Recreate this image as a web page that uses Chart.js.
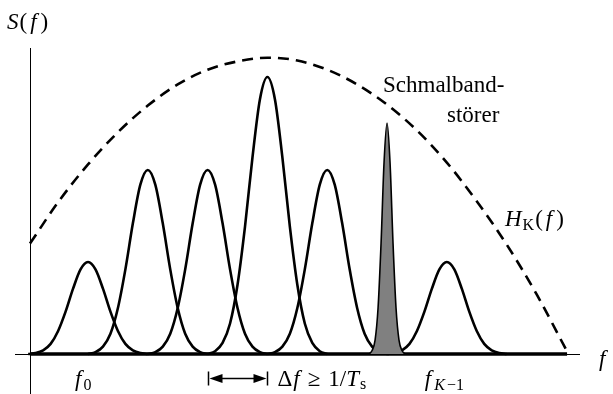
<!DOCTYPE html>
<html>
<head>
<meta charset="utf-8">
<script src="https://cdn.jsdelivr.net/npm/chart.js@4/dist/chart.umd.min.js"></script>
<style>
  html, body { margin: 0; padding: 0; background: #fff; }
  canvas { display: block; }
</style>
</head>
<body>
<canvas id="c" width="613" height="394"></canvas>
<script>
// ---- data (x in units of the carrier spacing, y relative) ----
const carrierLabels   = ['f0', 'f1', 'f2', 'f3', 'f4', 'f5', 'fK-1'];
const pulseCenters    = [0, 1, 2, 3, 4, 6];
const pulseHeights    = [1, 2, 2, 3.01, 2, 1];
const pulseOffsets    = [-1, -0.875, -0.75, -0.625, -0.5, -0.375, -0.25, -0.125, 0, 0.125, 0.25, 0.375, 0.5, 0.625, 0.75, 0.875, 1];
const pulseProfile    = [0, 0.01, 0.04, 0.11, 0.25, 0.46, 0.71, 0.92, 1, 0.92, 0.71, 0.46, 0.25, 0.11, 0.04, 0.01, 0];
const jammerCenter    = 5;
const jammerHeight    = 2.51;
const jammerOffsets   = [-0.3, -0.25, -0.2, -0.15, -0.1, -0.05, 0, 0.05, 0.1, 0.15, 0.2, 0.25, 0.3];
const jammerProfile   = [0, 0.015, 0.06, 0.2, 0.48, 0.83, 1, 0.83, 0.48, 0.2, 0.06, 0.015, 0];
const envelopeF       = [-0.97, -0.5, 0, 0.5, 1, 1.5, 2, 2.5, 3, 3.5, 4, 4.5, 5, 5.5, 6, 6.5, 7, 7.5, 8];
const envelopeH       = [1.20, 1.65, 2.06, 2.41, 2.70, 2.93, 3.09, 3.18, 3.22, 3.19, 3.09, 2.93, 2.71, 2.43, 2.08, 1.66, 1.19, 0.65, 0.04];
const baselineF       = [-0.97, 8.01];

const datasets = [];
datasets.push({
  data: baselineF.map(f => ({x: f, y: 0})),
  borderColor: '#000', borderWidth: 3.6, pointRadius: 0, clip: false, order: 1
});
pulseCenters.forEach((c, i) => {
  datasets.push({
    data: pulseOffsets.map((o, j) => ({x: c + o, y: pulseHeights[i] * pulseProfile[j]})),
    borderColor: '#000', borderWidth: 2.6, pointRadius: 0,
    cubicInterpolationMode: 'monotone', clip: false, order: 2
  });
});
datasets.push({
  data: jammerOffsets.map((o, j) => ({x: jammerCenter + o, y: jammerHeight * jammerProfile[j]})),
  borderColor: '#000', borderWidth: 1.6, backgroundColor: '#808080', fill: 'origin',
  pointRadius: 0, cubicInterpolationMode: 'monotone', clip: false, order: 0
});
datasets.push({
  data: envelopeF.map((f, j) => ({x: f, y: envelopeH[j]})),
  borderColor: '#000', borderWidth: 2.6, borderDash: [11, 7], pointRadius: 0,
  cubicInterpolationMode: 'monotone', clip: false, order: 3
});

function drawRuns(ctx, x, y, runs) {
  // runs: [text, font, dy, gapBefore, gapAfter]
  let cx = x;
  ctx.textBaseline = 'alphabetic';
  ctx.textAlign = 'left';
  for (const [t, f, dy, pre, post] of runs) {
    ctx.font = f;
    cx += pre || 0;
    ctx.fillText(t, cx, y + (dy || 0));
    cx += ctx.measureText(t).width + (post || 0);
  }
}

const IT = 'italic 23px "Liberation Serif"';
const RM = '23px "Liberation Serif"';
const SUB = '16px "Liberation Serif"';
const SUBIT = 'italic 16px "Liberation Serif"';

const annot = {
  id: 'annot',
  afterDraw(chart) {
    const ctx = chart.ctx;
    const xs = chart.scales.x, ys = chart.scales.y;
    const x0 = xs.getPixelForValue(xs.min);
    const y0 = ys.getPixelForValue(0);
    ctx.save();
    ctx.strokeStyle = '#000';
    ctx.fillStyle = '#000';
    ctx.lineWidth = 1;
    // axes
    ctx.beginPath();
    ctx.moveTo(x0 + 0.5, 48); ctx.lineTo(x0 + 0.5, 394);
    ctx.moveTo(15, y0 + 0.5); ctx.lineTo(580, y0 + 0.5);
    ctx.stroke();

    // labels
    drawRuns(ctx, 7, 29, [['S', IT, 0, 0, 1], ['(', RM], ['f', IT, 0, 3, 4], [')', RM]]);
    drawRuns(ctx, 599, 366, [['f', IT]]);
    ctx.font = RM;
    ctx.fillText('Schmalband-', 383, 92);
    ctx.fillText('störer', 447, 122);
    drawRuns(ctx, 505, 226, [['H', IT, 0, 0, 1], ['K', SUB, 4, 0, 1], ['(', RM], ['f', IT, 0, 3, 4], [')', RM]]);

    const pf0 = xs.getPixelForValue(pulseCenters[0]);
    drawRuns(ctx, pf0 - 13, 386, [['f', IT, 0, 0, 2], ['0', SUB, 4]]);
    const pfK = xs.getPixelForValue(pulseCenters[pulseCenters.length - 1]);
    drawRuns(ctx, pfK - 22, 386, [['f', IT, 0, 0, 3], ['K', SUBIT, 4, 0, 2], ['\u2212', SUB, 4], ['1', SUB, 4]]);

    // spacing arrow
    const a = Math.round(xs.getPixelForValue(2)) + 0.5;
    const b = Math.round(xs.getPixelForValue(3)) + 0.5;
    const ay = 378.5;
    ctx.lineWidth = 1.5;
    ctx.beginPath();
    ctx.moveTo(a, ay - 7); ctx.lineTo(a, ay + 7);
    ctx.moveTo(b, ay - 7); ctx.lineTo(b, ay + 7);
    ctx.moveTo(a + 10, ay); ctx.lineTo(b - 10, ay);
    ctx.stroke();
    ctx.beginPath();
    ctx.moveTo(a + 1, ay); ctx.lineTo(a + 14, ay - 4.5); ctx.lineTo(a + 14, ay + 4.5); ctx.closePath();
    ctx.moveTo(b - 1, ay); ctx.lineTo(b - 14, ay - 4.5); ctx.lineTo(b - 14, ay + 4.5); ctx.closePath();
    ctx.fill();
    drawRuns(ctx, b + 10, 386, [['\u0394', RM], ['f', IT, 0, 1, 8], ['\u2265', RM, 0, 0, 8], ['1/', RM], ['T', IT, 0, 0, 1], ['s', SUB, 3]]);
    ctx.restore();
  }
};

new Chart(document.getElementById('c'), {
  type: 'line',
  data: { datasets },
  options: {
    responsive: false,
    animation: false,
    devicePixelRatio: 1,
    layout: { padding: { left: 30, right: 28, top: 50, bottom: 40 } },
    plugins: { legend: { display: false }, tooltip: { enabled: false } },
    scales: {
      x: { type: 'linear', min: -0.97, max: 8.31, display: false },
      y: { type: 'linear', min: 0, max: 3.304, display: false }
    }
  },
  plugins: [annot]
});
</script>
</body>
</html>
